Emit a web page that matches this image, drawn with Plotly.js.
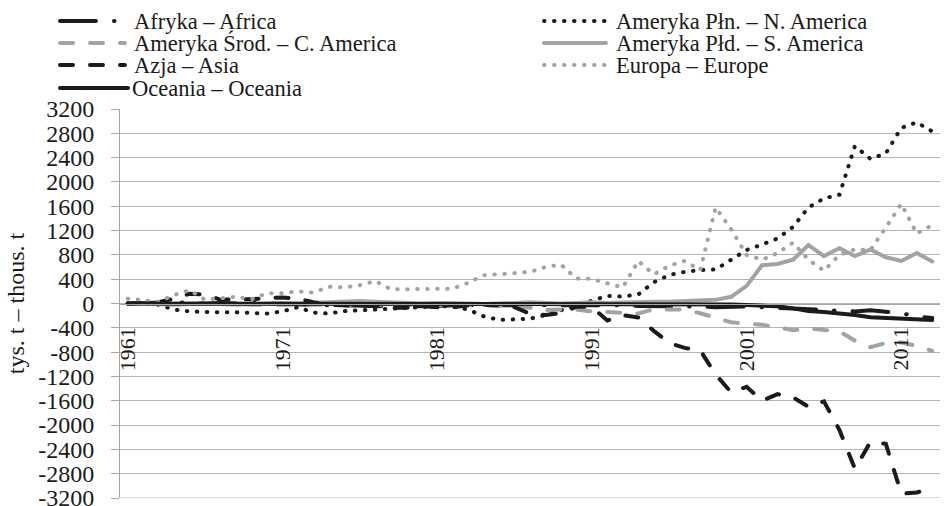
<!DOCTYPE html>
<html>
<head>
<meta charset="utf-8">
<script src="https://cdn.plot.ly/plotly-3.0.1.min.js"></script>
<style>
html,body{margin:0;padding:0;background:#fff;}
#chart{width:950px;height:506px;}
#chart .scatterlayer .js-line, #chart .shapelayer path{stroke-linecap:round;}
</style>
</head>
<body>
<div id="chart"></div>
<script>
const years = [1961,1962,1963,1964,1965,1966,1967,1968,1969,1970,
  1971,1972,1973,1974,1975,1976,1977,1978,1979,1980,
  1981,1982,1983,1984,1985,1986,1987,1988,1989,1990,
  1991,1992,1993,1994,1995,1996,1997,1998,1999,2000,
  2001,2002,2003,2004,2005,2006,2007,2008,2009,2010,
  2011,2012,2013];

const africa = [0,10,10,20,10,0,10,0,10,0,
  -10,-20,-20,-30,-30,-40,-40,-50,-50,-50,
  -40,-30,-30,-30,-30,-20,-30,-30,-20,-20,
  -30,-30,-30,-40,-40,-40,-50,-50,-60,-50,
  -50,-60,-70,-90,-100,-110,-120,-130,-110,-130,
  -160,-210,-240];

const nAmerica = [0,0,-20,-100,-130,-145,-145,-145,-150,-165,
  -130,-60,-150,-165,-125,-115,-105,-95,-70,-60,
  -40,-50,-100,-210,-270,-260,-250,-190,-110,-20,
  60,125,115,150,350,470,520,550,560,720,
  880,970,1070,1260,1580,1730,1790,2590,2380,2470,
  2890,2980,2830];

const cAmerica = [0,0,-10,-10,0,-10,-10,-10,-20,-20,
  -20,-20,-10,-20,-20,-10,-20,-30,-30,-30,
  -20,-30,-30,-30,-40,-40,-70,-110,-100,-100,
  -130,-140,-150,-165,-95,-90,-100,-160,-230,-310,
  -330,-350,-390,-440,-410,-430,-460,-610,-720,-650,
  -640,-700,-780];

const sAmerica = [10,0,-10,-20,-10,0,-10,-20,-10,0,
  10,0,10,20,30,40,30,20,10,0,
  10,10,0,-10,0,10,20,10,0,10,
  20,10,20,20,30,30,40,50,60,110,
  290,630,650,720,960,780,910,780,890,760,
  700,830,690];

const asia = [0,10,20,80,160,150,60,70,70,90,
  100,80,20,-20,-30,-40,-30,-70,-70,-40,
  -60,-60,-30,-20,-30,-60,-170,-190,-160,-50,
  -60,-280,-190,-230,-450,-650,-730,-770,-1170,-1460,
  -1370,-1600,-1490,-1545,-1700,-1610,-2080,-2720,-2280,-2310,
  -3130,-3110,-3030];

const europe = [80,60,30,140,220,60,90,110,70,170,
  170,200,180,275,265,300,370,235,235,240,
  240,245,340,465,480,505,520,600,640,410,
  405,330,265,700,480,620,700,550,1580,1220,
  800,720,830,1000,720,540,800,890,880,1250,
  1640,1150,1290];

const oceania = [0,0,0,0,0,0,0,0,0,0,
  0,0,0,-10,-10,0,0,-10,-10,-10,
  -10,0,0,-10,-10,-10,0,-10,-10,-10,
  -10,-10,-10,-10,-10,-10,-10,-10,-10,-15,
  -25,-35,-45,-80,-125,-140,-160,-190,-225,-240,
  -250,-265,-272];

const seriesNames = ['Afryka – Africa','Ameryka Płn. – N. America','Ameryka Środ. – C. America',
  'Ameryka Płd. – S. America','Azja – Asia','Europa – Europe','Oceania – Oceania'];

const xTickVals = [1961,1971,1981,1991,2001,2011];
const xTickText = ['1961','1971','1981','1991','2001','2011'];
const yTickVals = [-3200,-2800,-2400,-2000,-1600,-1200,-800,-400,0,400,800,1200,1600,2000,2400,2800,3200];
const yTickText = ['-3200','-2800','-2400','-2000','-1600','-1200','-800','-400','0','400','800','1200','1600','2000','2400','2800','3200'];

const BLACK = '#1b1b1b';
const GRAY = '#a3a3a3';
const GRID = '#b3b3b3';
const FONT = 'Liberation Serif, Times New Roman, serif';
const DOT = '0.5px,9.5px';
const DASH = '13px,17px';
const LONGDASHDOT = '36px,18px,0.5px,18px';

const styles = [
  {color: BLACK, dash: LONGDASHDOT},
  {color: BLACK, dash: DOT},
  {color: GRAY, dash: DASH},
  {color: GRAY, dash: 'solid'},
  {color: BLACK, dash: DASH},
  {color: GRAY, dash: DOT},
  {color: BLACK, dash: 'solid'}
];
const values = [africa, nAmerica, cAmerica, sAmerica, asia, europe, oceania];

const traces = values.map((v, i) => ({
  type: 'scatter', mode: 'lines', x: years, y: v, name: seriesNames[i],
  line: {color: styles[i].color, width: 4, dash: styles[i].dash},
  hoverinfo: 'skip', showlegend: false
}));

// plot area in pixels
const L = 120, R = 10, T = 109, B = 8, W = 950, H = 506;
const pw = W - L - R, ph = H - T - B;
const px = v => (v - L) / pw;
const py = v => (H - B - v) / ph;

// custom legend (two columns, row-major as in the original)
const legendItems = [
  {i: 0, x0: 60, x1: 117, tx: 132, y: 21},
  {i: 1, x0: 544, x1: 606, tx: 614, y: 21},
  {i: 2, x0: 60, x1: 125, tx: 132, y: 43},
  {i: 3, x0: 544, x1: 606, tx: 614, y: 43},
  {i: 4, x0: 60, x1: 125, tx: 132, y: 65},
  {i: 5, x0: 544, x1: 606, tx: 614, y: 65},
  {i: 6, x0: 60, x1: 128, tx: 130, y: 88}
];
const shapes = legendItems.map(it => ({
  type: 'line', xref: 'paper', yref: 'paper',
  x0: px(it.x0), x1: px(it.x1), y0: py(it.y), y1: py(it.y),
  line: {color: styles[it.i].color, width: 4, dash: styles[it.i].dash}
}));
// bottom gridline (Plotly skips the grid line on the axis edge)
shapes.push({type: 'line', xref: 'paper', yref: 'y', x0: 0, x1: 1, y0: -3200, y1: -3200,
  line: {color: GRID, width: 1}, layer: 'below'});
const annotations = legendItems.map(it => ({
  xref: 'paper', yref: 'paper', x: px(it.tx), y: py(it.y),
  xanchor: 'left', yanchor: 'middle', showarrow: false,
  text: seriesNames[it.i], font: {family: FONT, size: 22.5, color: '#1a1a1a'}
}));

const layout = {
  width: W, height: H,
  margin: {l: L, r: R, t: T, b: B, pad: 0},
  paper_bgcolor: '#fff', plot_bgcolor: '#fff',
  showlegend: false,
  font: {family: FONT, size: 22, color: '#1a1a1a'},
  xaxis: {
    range: [1960.5, 2013.5], anchor: 'free', position: 0.5,
    tickmode: 'array', tickvals: xTickVals, ticktext: xTickText, tickangle: -90,
    showline: true, linecolor: '#a6a6a6', linewidth: 1,
    showgrid: false, zeroline: false, ticks: '', ticklabelstandoff: 14,
    tickfont: {family: FONT, size: 22, color: '#1a1a1a'},
    automargin: false, fixedrange: true
  },
  yaxis: {
    range: [-3200, 3200],
    tickmode: 'array', tickvals: yTickVals, ticktext: yTickText, ticklabeloverflow: 'allow',
    showline: true, linecolor: '#a6a6a6', linewidth: 1,
    showgrid: true, gridcolor: GRID, gridwidth: 1, zeroline: false,
    ticks: 'outside', ticklen: 8, tickcolor: '#a6a6a6', ticklabelstandoff: 12,
    tickfont: {family: FONT, size: 24, color: '#1a1a1a'},
    title: {text: 'tys. t – thous. t', font: {family: FONT, size: 24, color: '#1a1a1a'}, standoff: 6},
    automargin: false, fixedrange: true
  },
  shapes: shapes,
  annotations: annotations
};

Plotly.newPlot('chart', traces, layout, {displayModeBar: false, staticPlot: true});
</script>
</body>
</html>
